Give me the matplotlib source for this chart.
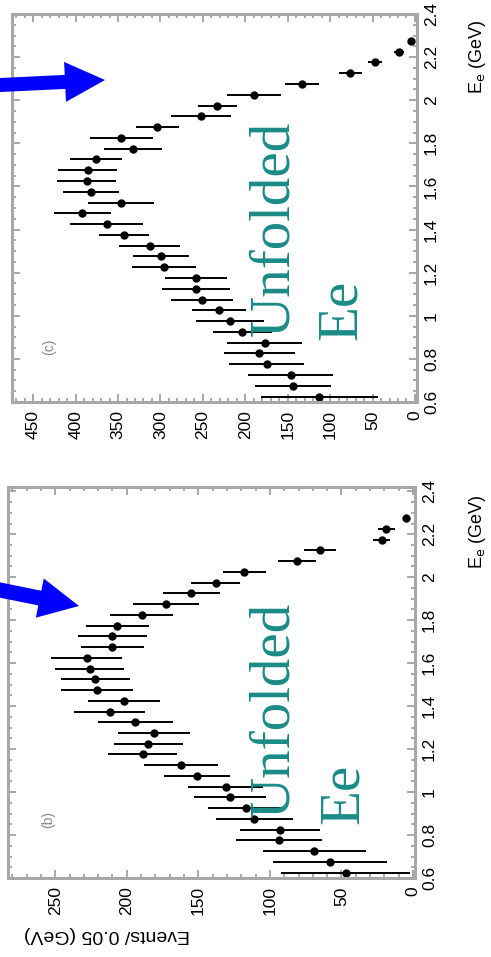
import matplotlib
matplotlib.use("Agg")
import matplotlib.pyplot as plt
from matplotlib.patches import FancyArrow
from matplotlib.ticker import MultipleLocator, FormatStrFormatter

# ── Data (bin centres in GeV, events per 0.05 GeV) ─────────────────────────────
E_CENTRES = [0.625, 0.675, 0.725, 0.775, 0.825, 0.875, 0.925, 0.975, 1.025, 1.075,
             1.125, 1.175, 1.225, 1.275, 1.325, 1.375, 1.425, 1.475, 1.525, 1.575,
             1.625, 1.675, 1.725, 1.775, 1.825, 1.875, 1.925, 1.975, 2.025, 2.075,
             2.125, 2.175, 2.225, 2.275]

EVENTS_B = [47, 58, 69, 93.5, 93, 111, 117, 128, 131, 151,
            162, 189, 185, 181, 194, 212, 202, 221, 222, 226,
            228, 210, 210, 206.5, 189.5, 172.5, 155, 138, 118, 81,
            65, 22, 18.6, 4.6]
ERR_B = [45, 40, 36, 30, 28, 27, 26, 25, 26, 23,
         26, 24, 24, 25, 26, 25, 25, 25, 24, 24,
         25, 22, 24, 22, 22, 23, 20, 17, 15, 13,
         11, 6, 6, 2]

EVENTS_C = [113, 143.5, 146.6, 175, 183.5, 177, 203.6, 218, 231, 251,
            258, 258, 296, 299, 312.5, 343, 363.6, 392, 347, 382,
            387, 386, 376, 332, 346, 303.5, 252, 233, 190, 133,
            76, 47, 18.5, 4.7]
ERR_C = [69, 45, 50, 44, 42, 44, 35, 40, 32, 37,
         40, 37, 38, 33, 36, 29, 43, 34, 39, 33,
         35, 35, 31, 34, 37, 25, 35, 23, 32, 20,
         14, 8, 6, 3]

W, H = 491, 957
TEAL = "#1b8b87"
FRAME = "#a8a8a8"
plt.rcParams["font.family"] = ["Liberation Sans", "DejaVu Sans"]

fig = plt.figure(figsize=(W / 100, H / 100), dpi=100)


def px_axes(left, top, right, bottom):
    return fig.add_axes([left / W, (H - bottom) / H, (right - left) / W, (bottom - top) / H])


def panel(ax, events, errs, xmax, xmin, ymax):
    ax.errorbar(events, E_CENTRES, xerr=errs, fmt="o", color="black",
                ms=5, elinewidth=1.4, capsize=0)
    ax.set_xlim(xmax, xmin)
    ax.set_ylim(0.6, ymax)
    ax.xaxis.set_major_locator(MultipleLocator(50))
    ax.xaxis.set_minor_locator(MultipleLocator(10))
    ax.yaxis.set_major_locator(MultipleLocator(0.2))
    ax.yaxis.set_minor_locator(MultipleLocator(0.05))
    ax.yaxis.set_major_formatter(FormatStrFormatter("%g"))
    ax.tick_params(which="both", direction="in", top=True, bottom=True,
                   left=True, right=True, labelleft=False, labelright=True,
                   color="#999999", width=1.2)
    ax.tick_params(which="major", length=6, labelsize=12.5)
    ax.tick_params(which="minor", length=3)
    ax.tick_params(axis="x", pad=6, labelrotation=90)
    ax.tick_params(axis="y", pad=5, labelrotation=90)
    for lab in ax.get_yticklabels():
        lab.set_va("center")
    for s in ax.spines.values():
        s.set_color(FRAME)
        s.set_linewidth(2.2)


ax_c = px_axes(12, 14, 417, 402)
panel(ax_c, EVENTS_C, ERR_C, 475, -2.4, 2.4)

ax_b = px_axes(8, 487, 415, 878)
panel(ax_b, EVENTS_B, ERR_B, 283, -1.4, 2.42)

# ── Overlay in pixel coordinates for annotations ───────────────────────────────
ov = fig.add_axes([0, 0, 1, 1])
ov.set_xlim(0, W)
ov.set_ylim(H, 0)
ov.axis("off")

serif = ["Liberation Serif", "DejaVu Serif"]
big = dict(rotation=90, ha="left", va="bottom", color=TEAL, fontsize=41, family=serif)
ov.text(248, 336, "Unfolded", **big)
ov.text(316, 340, "Ee", **big)
ov.text(248, 817, "Unfolded", **big)
ov.text(318, 824, "Ee", **big)

ov.text(49, 347, "(c)", rotation=90, ha="center", va="center", color="#888888", fontsize=10)
ov.text(48, 820, "(b)", rotation=90, ha="center", va="center", color="#888888", fontsize=10)

ov.text(478, 57, "E$_{\\rm e}$ (GeV)", rotation=90, ha="center", va="center", fontsize=13)
ov.text(478, 532, "E$_{\\rm e}$ (GeV)", rotation=90, ha="center", va="center", fontsize=13)
ov.text(107, 935, "Events/ 0.05 (GeV)", rotation=180, ha="center", va="center", fontsize=14)

ov.add_patch(FancyArrow(-10, 85.5, 115, -5.5, width=14, head_width=40, head_length=40,
                        length_includes_head=True, color="#0000ff", lw=0))
ov.add_patch(FancyArrow(-10, 588, 89, 18, width=15, head_width=40, head_length=40,
                        length_includes_head=True, color="#0000ff", lw=0))

fig.savefig("out.png", dpi=100)
